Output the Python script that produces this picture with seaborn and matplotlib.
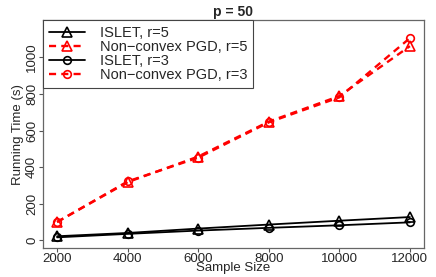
import matplotlib
matplotlib.use("Agg")
import matplotlib.pyplot as plt
import numpy as np
import pandas as pd
import seaborn as sns

# data
sample_size = [2000, 4000, 6000, 8000, 10000, 12000]
islet_r5 = [22, 40, 64, 86, 107, 127]
pgd_r5 = [100, 318, 458, 649, 789, 1062]
islet_r3 = [16, 35, 53, 68, 82, 98]
pgd_r3 = [100, 322, 452, 645, 782, 1106]

series = [
    ("ISLET, r=5", islet_r5, "black", "^", "-"),
    ("Non\u2212convex PGD, r=5", pgd_r5, "red", "^", (0, (3.0, 2.2))),
    ("ISLET, r=3", islet_r3, "black", "o", "-"),
    ("Non\u2212convex PGD, r=3", pgd_r3, "red", "o", (0, (3.0, 2.2))),
]

sns.set_style("ticks")
plt.rcParams["font.family"] = ["Liberation Sans", "DejaVu Sans"]

fig = plt.figure(figsize=(4.36, 2.77), dpi=100)
ax = fig.add_axes([0.0986, 0.1029, 0.8739, 0.8249])

for label, vals, color, marker, ls in series:
    df = pd.DataFrame({"n": sample_size, "t": vals})
    sns.lineplot(
        data=df, x="n", y="t", ax=ax, color=color, label=label,
        linestyle=ls, linewidth=1.7 if color == "red" else 1.3,
        marker=marker, markersize=6.5 if marker == "^" else 5.5,
        markerfacecolor="none", markeredgecolor=color, markeredgewidth=1.2,
    )

ax.set_xlim(1600, 12400)
ax.set_ylim(-45, 1205)
ax.set_xticks(np.arange(2000, 12001, 2000))
ax.set_yticks(np.arange(0, 1001, 200))
ax.tick_params(axis="both", labelsize=9.5, length=3, width=0.8,
               color="#555555", pad=0.5)
for lab in ax.get_yticklabels():
    lab.set_rotation(90)
    lab.set_va("center")

for sp in ax.spines.values():
    sp.set_visible(True)
    sp.set_color("#666666")
    sp.set_linewidth(0.9)

ax.set_xlabel("Sample Size", fontsize=9.5, labelpad=-2.5)
ax.set_ylabel("Running Time (s)", fontsize=9.5, labelpad=1.5)
ax.set_title("p = 50", fontsize=10, fontweight="bold", pad=3)

leg = ax.legend(loc="upper left", bbox_to_anchor=(0, 1), borderaxespad=0,
                fontsize=10.5, handlelength=2.5, handletextpad=1.0,
                labelspacing=0.0, fancybox=False, framealpha=1,
                borderpad=0.4)
leg.get_frame().set_edgecolor("#444444")
leg.get_frame().set_linewidth(0.8)

fig.savefig("out.png", dpi=100)
